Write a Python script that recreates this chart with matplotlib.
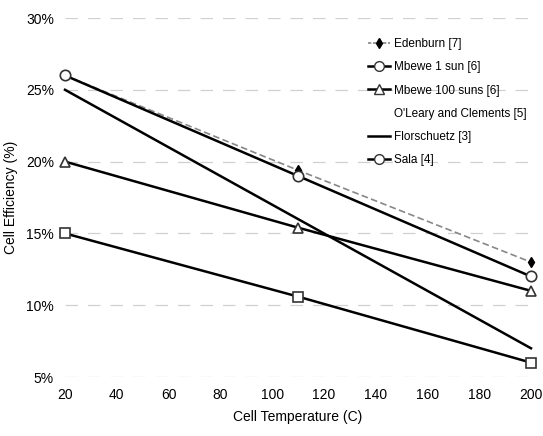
import numpy as np
import matplotlib.pyplot as plt
from matplotlib.lines import Line2D

plt.rcParams['font.family'] = ['Liberation Sans Narrow', 'Liberation Sans', 'DejaVu Sans']

# data (efficiency in %)
temps = [20, 110, 200]
edenburn = [26, 19.4, 13]
mbewe_1 = [26, 19, 12]
mbewe_100 = [20, 15.4, 11]
florschuetz = [25, 16, 7]
sala = [15, 10.6, 6]

labels = ['Edenburn [7]', 'Mbewe 1 sun [6]', 'Mbewe 100 suns [6]',
          "O'Leary and Clements [5]", 'Florschuetz [3]', 'Sala [4]']

fig = plt.figure(figsize=(5.43, 4.36), dpi=100)
ax = fig.add_axes([65/543, 1 - 377/436, (531 - 65)/543, (377 - 18)/436])

# broken gridlines like the scan
for yv in [5, 10, 15, 20, 25, 30]:
    ax.axhline(yv, color='#d0d0d0', lw=0.9, ls=(0, (10, 8)), zorder=0)

lk = dict(color='black', lw=1.8, mfc='white', mec='#333333', ms=7.5, mew=1.2, clip_on=False, zorder=3)
ax.plot(temps, edenburn, color='#888888', lw=1.2, ls=(0, (4, 2)), marker='d',
        ms=5, mfc='black', mec='black', clip_on=False, zorder=2)
ax.plot(temps, mbewe_1, marker='o', **lk)
ax.plot(temps, mbewe_100, marker='^', **lk)
ax.plot(temps, florschuetz, color='black', lw=1.8, clip_on=False, zorder=3)
ax.plot(temps, sala, marker='s', **lk)

ax.set_xlim(20, 200)
ax.set_ylim(5, 30)
ax.set_xticks(range(20, 201, 20))
ax.set_yticks([5, 10, 15, 20, 25, 30])
ax.set_yticklabels([f'{v}%' for v in [5, 10, 15, 20, 25, 30]])
ax.tick_params(length=0, labelsize=10, pad=8)
for s in ax.spines.values():
    s.set_visible(False)

ax.set_xlabel('Cell Temperature (C)', fontsize=10, labelpad=6)
ax.set_ylabel('Cell Efficiency (%)', fontsize=10, labelpad=6)

handles = [
    Line2D([], [], color='#888888', lw=1.2, ls=(0, (2, 1)), marker='d', ms=5, mfc='black', mec='black'),
    Line2D([], [], color='black', lw=1.8, marker='o', ms=7, mfc='white', mec='#333333'),
    Line2D([], [], color='black', lw=1.8, marker='^', ms=7, mfc='white', mec='#333333'),
    Line2D([], [], color='none'),
    Line2D([], [], color='black', lw=1.8),
    Line2D([], [], color='black', lw=1.8, marker='o', ms=7, mfc='white', mec='#333333'),
]
leg = ax.legend(handles, labels, loc='upper left', bbox_to_anchor=(0.64, 0.957),
                frameon=False, fontsize=8.5, handlelength=1.9, handletextpad=0.3,
                labelspacing=0.95, borderaxespad=0)

fig.savefig('out.png', dpi=100)
